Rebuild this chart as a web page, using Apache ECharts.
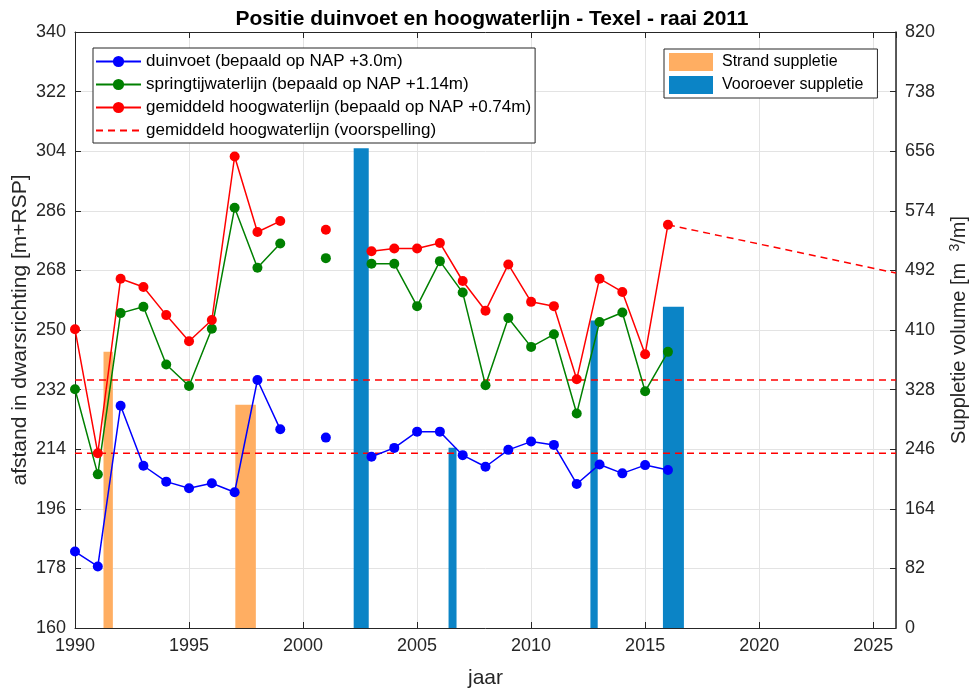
<!DOCTYPE html>
<html>
<head>
<meta charset="utf-8">
<script src="https://cdn.jsdelivr.net/npm/echarts@6/dist/echarts.min.js"></script>
<style>
  html, body { margin: 0; padding: 0; background: #fff; }
  #chart { width: 975px; height: 691px; }
</style>
</head>
<body>
<div id="chart"></div>
<script>
// jaren en posities (m+RSP), null = geen meting
var jaren = [1990, 1991, 1992, 1993, 1994, 1995, 1996, 1997, 1998, 1999, 2000, 2001, 2002, 2003,
             2004, 2005, 2006, 2007, 2008, 2009, 2010, 2011, 2012, 2013, 2014, 2015, 2016];
var duinvoet = [183.1, 178.6, 227.1, 209.0, 204.2, 202.2, 203.7, 201.0, 234.9, 220.0, null, 217.5, null, 211.7,
                214.4, 219.3, 219.3, 212.2, 208.7, 213.8, 216.3, 215.3, 203.5, 209.4, 206.7, 209.2, 207.7];
var springtij = [232.1, 206.4, 255.1, 257.0, 239.6, 233.1, 250.4, 286.9, 268.8, 276.1, null, 271.7, null, 270.0,
                 270.0, 257.2, 270.8, 261.3, 233.3, 253.6, 244.9, 248.7, 224.8, 252.4, 255.3, 231.5, 243.4];
var hoogwater = [250.2, 212.8, 265.5, 263.0, 254.5, 246.6, 253.0, 302.4, 279.6, 282.9, null, 280.3, null, 273.8,
                 274.6, 274.6, 276.3, 264.8, 255.8, 269.8, 258.5, 257.2, 235.1, 265.5, 261.5, 242.7, 281.8];

// voorspelling hoogwaterlijn
var voorspellingJaren = [2016, 2026];
var voorspelling = [281.8, 267.2];

// horizontale referentielijnen
var refLijnen = [234.9, 212.8];

// suppleties: [begin, eind, volume m3/m]
var strandSuppletie = [[1991.25, 1991.66, 380], [1997.03, 1997.93, 307]];
var vooroeverSuppletie = [[2002.22, 2002.88, 660], [2006.38, 2006.73, 248], [2012.60, 2012.92, 423], [2015.78, 2016.70, 442]];

// asgrenzen
var xMin = 1990, xMax = 2026;
var yMin = 160, yMax = 340, yStap = 18;   // links
var vMax = 820, vStap = 82;               // rechts

var FONT = 'Liberation Sans';
var TXT = '#262626';

// linker as loopt vanaf yMin, dus waarden t.o.v. yMin (labels tellen yMin weer op)
function reeks(waarden, xs) {
    return waarden.map(function (v, i) {
        return [xs[i], v === null ? '-' : v - yMin];
    });
}

function balk(params, api) {
    var p0 = api.coord([api.value(0), api.value(2)]);
    var p1 = api.coord([api.value(1), 0]);
    return {
        type: 'rect',
        shape: { x: p0[0], y: p0[1], width: p1[0] - p0[0], height: p1[1] - p0[1] },
        style: api.style()
    };
}

var lijnSerie = function (naam, data, kleur) {
    return {
        name: naam,
        type: 'line',
        data: data,
        yAxisIndex: 0,
        symbol: 'circle',
        symbolSize: 10,
        showSymbol: true,
        connectNulls: false,
        itemStyle: { color: kleur },
        lineStyle: { color: kleur, width: 1.5 },
        z: 5,
        animation: false
    };
};

var series = [
    {
        name: 'Strand suppletie',
        type: 'custom',
        xAxisIndex: 0,
        yAxisIndex: 1,
        renderItem: balk,
        encode: { x: [0, 1], y: 2 },
        data: strandSuppletie,
        itemStyle: { color: '#FFAE62' },
        clip: true,
        z: 1
    },
    {
        name: 'Vooroever suppletie',
        type: 'custom',
        xAxisIndex: 0,
        yAxisIndex: 1,
        renderItem: balk,
        encode: { x: [0, 1], y: 2 },
        data: vooroeverSuppletie,
        itemStyle: { color: '#0B84C6' },
        clip: true,
        z: 1
    },
    lijnSerie('duinvoet (bepaald op NAP +3.0m)', reeks(duinvoet, jaren), '#0000FF'),
    lijnSerie('springtijwaterlijn (bepaald op NAP +1.14m)', reeks(springtij, jaren), '#008000'),
    lijnSerie('gemiddeld hoogwaterlijn (bepaald op NAP +0.74m)', reeks(hoogwater, jaren), '#FF0000'),
    {
        name: 'gemiddeld hoogwaterlijn (voorspelling)',
        type: 'line',
        data: reeks(voorspelling, voorspellingJaren),
        symbol: 'none',
        itemStyle: { color: '#FF0000' },
        lineStyle: { color: '#FF0000', width: 1.5, type: [7, 5] },
        z: 4,
        animation: false
    }
];

refLijnen.forEach(function (v, i) {
    series.push({
        name: 'ref' + i,
        type: 'line',
        data: reeks([v, v], [xMin, xMax]),
        symbol: 'none',
        lineStyle: { color: '#FF0000', width: 1.5, type: [7, 5] },
        z: 4,
        animation: false
    });
});

var myChart = echarts.init(document.getElementById('chart'));
myChart.setOption({
    animation: false,
    textStyle: { fontFamily: FONT },
    title: {
        text: 'Positie duinvoet en hoogwaterlijn - Texel - raai 2011',
        left: 487,
        textAlign: 'center',
        top: 4,
        textStyle: { fontFamily: FONT, fontSize: 21, fontWeight: 'bold', color: '#000' }
    },
    grid: { left: 75, right: 79, top: 32, bottom: 63, containLabel: false, outerBoundsMode: 'none' },
    legend: [
        {
            orient: 'vertical',
            left: 93,
            top: 48,
            width: 440,
            padding: [5, 4, 4, 2],
            itemGap: 6,
            itemWidth: 45,
            itemHeight: 14,
            backgroundColor: '#fff',
            borderColor: TXT,
            borderWidth: 1,
            textStyle: { fontFamily: FONT, fontSize: 17, color: '#000' },
            data: [
                'duinvoet (bepaald op NAP +3.0m)',
                'springtijwaterlijn (bepaald op NAP +1.14m)',
                'gemiddeld hoogwaterlijn (bepaald op NAP +0.74m)',
                { name: 'gemiddeld hoogwaterlijn (voorspelling)', itemStyle: { opacity: 0 } }
            ]
        },
        {
            orient: 'vertical',
            left: 664,
            top: 49,
            padding: [4, 14, 4, 5],
            itemGap: 5,
            itemWidth: 44,
            itemHeight: 18,
            backgroundColor: '#fff',
            borderColor: TXT,
            borderWidth: 1,
            textStyle: { fontFamily: FONT, fontSize: 16, color: '#000', padding: [0, 0, 0, 4] },
            data: [
                { name: 'Strand suppletie', icon: 'rect' },
                { name: 'Vooroever suppletie', icon: 'rect' }
            ]
        }
    ],
    xAxis: [
        {
            type: 'value',
            min: xMin,
            max: xMax,
            interval: 5,
            name: 'jaar',
            nameLocation: 'middle',
            nameGap: 40,
            nameTextStyle: { fontFamily: FONT, fontSize: 21, color: TXT },
            axisLine: { lineStyle: { color: TXT, width: 1 } },
            axisTick: { inside: true, length: 6, lineStyle: { color: TXT } },
            axisLabel: {
                margin: 9,
                fontSize: 18,
                color: TXT,
                fontFamily: FONT,
                showMaxLabel: false,
                formatter: function (v) { return v % 5 === 0 ? String(v) : ''; }
            },
            splitLine: { show: true, lineStyle: { color: '#e3e3e3', width: 1 } }
        },
        {
            type: 'value',
            position: 'top',
            min: xMin,
            max: xMax,
            interval: 5,
            axisLine: { show: true, onZero: false, lineStyle: { color: TXT, width: 1 } },
            axisTick: { show: true, inside: true, length: 6, lineStyle: { color: TXT } },
            axisLabel: { show: false },
            splitLine: { show: false }
        }
    ],
    yAxis: [
        {
            type: 'value',
            position: 'left',
            min: 0,
            max: yMax - yMin,
            interval: yStap,
            name: 'afstand in dwarsrichting [m+RSP]',
            nameLocation: 'middle',
            nameGap: 44,
            nameMoveOverlap: false,
            nameTextStyle: { fontFamily: FONT, fontSize: 21, color: TXT },
            axisLine: { show: true, lineStyle: { color: TXT, width: 1 } },
            axisTick: { show: true, inside: true, length: 6, lineStyle: { color: TXT } },
            axisLabel: {
                margin: 9,
                fontSize: 18,
                color: TXT,
                fontFamily: FONT,
                formatter: function (v) { return String(Math.round(v + yMin)); }
            },
            splitLine: { show: true, lineStyle: { color: '#e3e3e3', width: 1 } }
        },
        {
            type: 'value',
            position: 'right',
            min: 0,
            max: vMax,
            interval: vStap,
            name: '{t|Suppletie volume [m  }{s|3}{t|/m]}',
            nameLocation: 'middle',
            nameRotate: 90,
            nameGap: 52,
            nameTextStyle: {
                rich: {
                    t: { fontFamily: FONT, fontSize: 20, color: TXT },
                    s: { fontFamily: FONT, fontSize: 14, color: TXT, verticalAlign: 'top', padding: [0, 0, 9, 0] }
                }
            },
            axisLine: { show: true, lineStyle: { color: TXT, width: 1.5 } },
            axisTick: { show: true, inside: true, length: 6, lineStyle: { color: TXT } },
            axisLabel: { margin: 9, fontSize: 18, color: TXT, fontFamily: FONT },
            splitLine: { show: false }
        }
    ],
    series: series
});
</script>
</body>
</html>
